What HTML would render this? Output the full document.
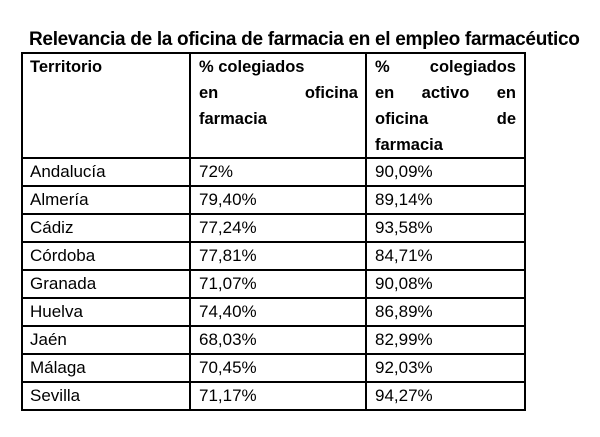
<!DOCTYPE html>
<html><head><meta charset="utf-8"><style>
body{margin:0;background:#fff;width:600px;height:437px;position:relative;overflow:hidden;font-family:"Liberation Sans",sans-serif;color:#000}
.t{position:absolute;left:29px;top:29px;font-size:19px;font-weight:bold;white-space:nowrap;letter-spacing:-0.3px}
.h{position:absolute;background:#000}
.c{position:absolute;font-size:17px;white-space:nowrap}
.b{font-weight:bold;font-size:16.5px}
.j{display:flex;justify-content:space-between}
</style></head><body>
<div class="t">Relevancia de la oficina de farmacia en el empleo farmacéutico</div>
<div class="h" style="left:21px;top:52px;width:505px;height:2px"></div>
<div class="h" style="left:21px;top:157px;width:505px;height:2px"></div>
<div class="h" style="left:21px;top:409px;width:505px;height:2px"></div>
<div class="h" style="left:21px;top:52px;width:2px;height:359px"></div>
<div class="h" style="left:189px;top:52px;width:2px;height:359px"></div>
<div class="h" style="left:365px;top:52px;width:2px;height:359px"></div>
<div class="h" style="left:524px;top:52px;width:2px;height:359px"></div>
<div id="rows"></div>
<div class="c b" style="left:30px;top:58px">Territorio</div>
<div class="c b" style="left:199px;top:58px">% colegiados</div>
<div class="c b j" style="left:199px;top:84px;width:159px"><span>en</span><span>oficina</span></div>
<div class="c b" style="left:199px;top:110px">farmacia</div>
<div class="c b j" style="left:375px;top:58px;width:141px"><span>%</span><span>colegiados</span></div>
<div class="c b j" style="left:375px;top:84px;width:141px"><span>en</span><span>activo</span><span>en</span></div>
<div class="c b j" style="left:375px;top:110px;width:141px"><span>oficina</span><span>de</span></div>
<div class="c b" style="left:375px;top:136px">farmacia</div>
<script>
var d=[["Andalucía","72%","90,09%"],["Almería","79,40%","89,14%"],["Cádiz","77,24%","93,58%"],["Córdoba","77,81%","84,71%"],["Granada","71,07%","90,08%"],["Huelva","74,40%","86,89%"],["Jaén","68,03%","82,99%"],["Málaga","70,45%","92,03%"],["Sevilla","71,17%","94,27%"]];
var h="";
for(var i=0;i<9;i++){var y=158+i*28;
if(i>0)h+='<div class="h" style="left:21px;top:'+(y-1)+'px;width:505px;height:2px"></div>';
h+='<div class="c" style="left:30px;top:'+(y+4)+'px">'+d[i][0]+'</div><div class="c" style="left:199px;top:'+(y+4)+'px">'+d[i][1]+'</div><div class="c" style="left:375px;top:'+(y+4)+'px">'+d[i][2]+'</div>';}
document.getElementById("rows").innerHTML=h;
</script>
</body></html>
